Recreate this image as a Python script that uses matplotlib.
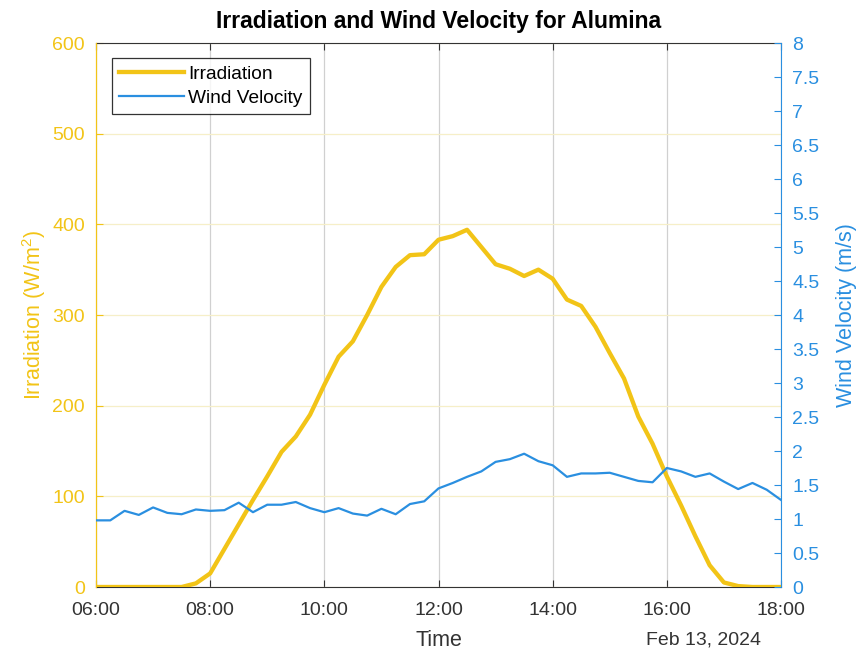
import matplotlib
matplotlib.use("Agg")
import matplotlib.pyplot as plt
import matplotlib.dates as mdates
import numpy as np
import pandas as pd

plt.rcParams['font.family'] = ['Liberation Sans', 'DejaVu Sans']
plt.rcParams['mathtext.fontset'] = 'custom'
plt.rcParams['mathtext.rm'] = 'Liberation Sans'

times = pd.date_range("2024-02-13 06:00", "2024-02-13 18:00", freq="15min")

irradiation = [0, 0, 0, 0, 0, 0, 0, 4,
               15, 42, 69, 96, 122, 149, 166, 190,
               223, 254, 271, 300, 331, 353, 366, 367,
               383, 387, 394, 375, 356, 351, 343, 350,
               340, 317, 310, 287, 258, 230, 188, 158,
               122, 90, 56, 24, 5, 1, 0, 0, 0]

wind = [0.98, 0.98, 1.12, 1.06, 1.17, 1.09, 1.07, 1.14,
        1.12, 1.13, 1.24, 1.10, 1.21, 1.21, 1.25, 1.16,
        1.10, 1.16, 1.08, 1.05, 1.15, 1.07, 1.22, 1.26,
        1.45, 1.53, 1.62, 1.70, 1.84, 1.88, 1.96, 1.85,
        1.79, 1.62, 1.67, 1.67, 1.68, 1.62, 1.56, 1.54,
        1.75, 1.70, 1.62, 1.67, 1.55, 1.44, 1.53, 1.43, 1.28]

left_ticks = [0, 100, 200, 300, 400, 500, 600]
right_ticks = [0, 0.5, 1, 1.5, 2, 2.5, 3, 3.5, 4, 4.5, 5, 5.5, 6, 6.5, 7, 7.5, 8]

YEL = '#F2C417'
BLU = '#2A8FE0'
TXT = '#333333'

fig = plt.figure(figsize=(8.57, 6.53), dpi=100)
ax = fig.add_axes([96/857, 66/653, 685/857, 544/653])
ax2 = ax.twinx()

l1, = ax.plot(times, irradiation, color=YEL, lw=3.1, label='Irradiation', zorder=3)
l2, = ax2.plot(times, wind, color=BLU, lw=1.6, label='Wind Velocity', zorder=3)

ax.set_xlim(times[0], times[-1])
ax.set_ylim(0, 600)
ax2.set_ylim(0, 8)
ax.set_yticks(left_ticks)
ax2.set_yticks(right_ticks)
ax2.set_yticklabels([f"{t:g}" for t in right_ticks])

ax.xaxis.set_major_locator(mdates.HourLocator(byhour=range(6, 19, 2)))
ax.xaxis.set_major_formatter(mdates.DateFormatter('%H:%M'))

# grids
ax.grid(axis='x', color='#d0d0d0', lw=0.9)
ax.grid(axis='y', color='#f6efc8', lw=0.9)
ax.set_axisbelow(True)

for sp in ['top', 'bottom']:
    ax.spines[sp].set_color(TXT)
ax.spines['left'].set_color(YEL)
ax2.spines['left'].set_color(YEL)
ax2.spines['right'].set_color(BLU)
ax.spines['right'].set_visible(False)
ax2.spines['top'].set_visible(False)
ax2.spines['bottom'].set_visible(False)

ax.tick_params(axis='x', direction='in', top=True, length=5, colors=TXT,
               labelsize=14, labelcolor=TXT, pad=11)
ax.tick_params(axis='y', direction='in', length=5, colors=YEL, labelsize=14, pad=8)
ax2.tick_params(axis='y', direction='in', length=5, colors=BLU, labelsize=14, pad=8)

ax.set_ylabel('Irradiation (W/m$^2$)', color=YEL, fontsize=15.5, labelpad=3)
ax2.set_ylabel('Wind Velocity (m/s)', color=BLU, fontsize=15.5, labelpad=12)
ax.set_xlabel('Time', color=TXT, fontsize=15.5, labelpad=8)
fig.text(703/857, 1 - 640/653, 'Feb 13, 2024', ha='center', va='center',
         fontsize=14, color=TXT)

ax.set_title('Irradiation and Wind Velocity for Alumina', fontsize=16.5,
             fontweight='bold', color='black', pad=11)

leg = ax2.legend(handles=[l1, l2], loc='upper left', bbox_to_anchor=(0.0234, 0.972),
                 borderaxespad=0, fontsize=13.8, frameon=True, fancybox=False,
                 edgecolor='black', handlelength=3.4, handletextpad=0.2,
                 borderpad=0.38, labelspacing=0.33)
leg.get_frame().set_linewidth(0.9)

fig.savefig('out.png', dpi=100, facecolor='white')
